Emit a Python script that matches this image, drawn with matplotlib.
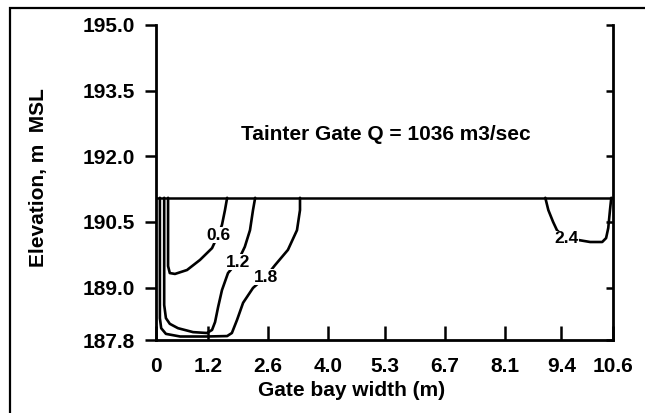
import matplotlib
matplotlib.use("Agg")
import matplotlib.pyplot as plt
from matplotlib.patches import Rectangle

plt.rcParams['font.family'] = ['Liberation Sans', 'DejaVu Sans']
plt.rcParams['font.weight'] = 'bold'

# Elevation of the gate lip (horizontal line) and the flow
gate_elev = 191.05
x_ticks = [0, 1.2, 2.6, 4.0, 5.3, 6.7, 8.1, 9.4, 10.6]
x_labels = ["0", "1.2", "2.6", "4.0", "5.3", "6.7", "8.1", "9.4", "10.6"]
y_ticks = [187.8, 189.0, 190.5, 192.0, 193.5, 195.0]

# Contour lines (x in m, elevation in m MSL)
c06_x = [1.65, 1.60, 1.53, 1.44, 1.30, 1.02, 0.72, 0.44, 0.32, 0.28, 0.28, 0.28]
c06_y = [191.05, 190.77, 190.43, 190.20, 189.90, 189.63, 189.40, 189.31, 189.33, 189.49, 190.09, 191.05]

c12_x = [2.30, 2.25, 2.18, 2.06, 1.90, 1.67, 1.53, 1.44, 1.37, 1.30, 1.18, 0.86, 0.51, 0.32, 0.23, 0.19, 0.19]
c12_y = [191.05, 190.77, 190.31, 189.93, 189.60, 189.33, 188.94, 188.55, 188.21, 188.03, 187.96, 187.98,
         188.07, 188.17, 188.30, 188.60, 191.05]

c18_x = [3.34, 3.34, 3.27, 3.06, 2.76, 2.55, 2.25, 2.02, 1.88, 1.76, 1.65, 1.18, 0.56, 0.23, 0.12, 0.09, 0.09]
c18_y = [191.05, 190.77, 190.31, 189.86, 189.51, 189.25, 188.99, 188.65, 188.26, 187.96, 187.89, 187.88,
         187.88, 187.94, 188.07, 188.30, 191.05]

c24_x = [9.03, 9.10, 9.21, 9.30, 9.51, 9.77, 10.07, 10.35, 10.44, 10.49, 10.53, 10.56]
c24_y = [191.05, 190.77, 190.50, 190.31, 190.11, 190.09, 190.04, 190.04, 190.13, 190.36, 190.77, 191.05]

contours = [(c06_x, c06_y), (c12_x, c12_y), (c18_x, c18_y), (c24_x, c24_y)]
labels = ["0.6", "1.2", "1.8", "2.4"]
label_x = [1.44, 1.90, 2.55, 9.51]
label_y = [190.20, 189.58, 189.24, 190.11]

fig = plt.figure(figsize=(6.45, 4.13), dpi=100)
ax = fig.add_axes([156 / 645, 1 - 340 / 413, (613 - 156) / 645, (340 - 25) / 413])

# outer frame of the scanned figure
fig.add_artist(Rectangle((10 / 645, -0.1), 1.2, 1 - 8 / 413 + 0.1, transform=fig.transFigure,
                         fill=False, edgecolor='black', linewidth=1.6))

ax.plot([0, 10.6], [gate_elev, gate_elev], color='black', linewidth=1.8)

for (cx, cy) in contours:
    ax.plot(cx, cy, color='black', linewidth=1.9, solid_capstyle='round', solid_joinstyle='round')

for txt, lx, ly in zip(labels, label_x, label_y):
    ax.text(lx, ly, txt, ha='center', va='center', fontsize=12.5, fontweight='bold',
            bbox=dict(facecolor='white', edgecolor='none', pad=0.5))

ax.text(5.34, 192.49, "Tainter Gate Q = 1036 m3/sec", ha='center', va='center',
        fontsize=15, fontweight='bold')

ax.set_xlim(0, 10.6)
ax.set_ylim(187.8, 195.0)

ax.set_xticks(x_ticks)
ax.set_xticklabels(x_labels)
ax.set_yticks(y_ticks)
ax.set_yticklabels([f"{v:.1f}" for v in y_ticks])

for s in ['left', 'right', 'bottom']:
    ax.spines[s].set_linewidth(2.0)
ax.spines['top'].set_visible(False)

ax.tick_params(axis='x', direction='in', length=10, width=1.8, pad=12, labelsize=15)
ax.tick_params(axis='y', direction='out', length=8, width=1.8, pad=7, labelsize=15, right=True)
# right-hand ticks point inward
for t in ax.yaxis.get_major_ticks():
    t.tick2line.set_marker(0)
    t.tick2line.set_markersize(5)

ax.set_xlabel("Gate bay width (m)", fontsize=15, fontweight='bold')
ax.xaxis.set_label_coords((352 - 156) / (613 - 156), -(381 - 340) / 315)
ax.set_ylabel("Elevation, m  MSL", fontsize=15, fontweight='bold')
ax.yaxis.set_label_coords(-(156 - 48) / (613 - 156), (340 - 178) / 315)

fig.savefig("out.png", dpi=100)
